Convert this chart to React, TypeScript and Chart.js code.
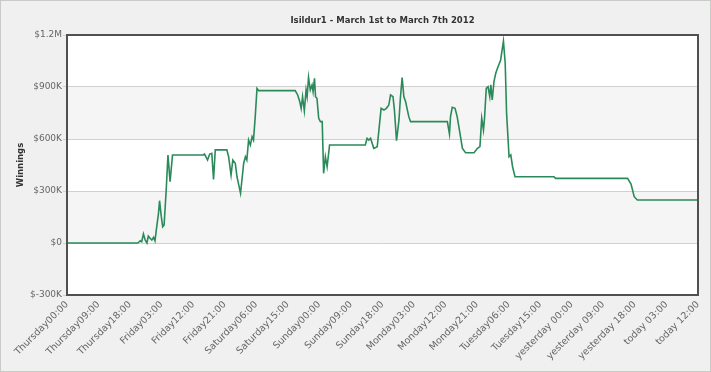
import React, { useEffect, useRef } from "react";
import { Chart, registerables } from "chart.js";

Chart.register(...registerables);

const chartTitle = "Isildur1 - March 1st to March 7th 2012";
const yAxisTitle = "Winnings";

const xTickLabels = [
  "Thursday00:00", "Thursday09:00", "Thursday18:00", "Friday03:00", "Friday12:00",
  "Friday21:00", "Saturday06:00", "Saturday15:00", "Sunday00:00", "Sunday09:00",
  "Sunday18:00", "Monday03:00", "Monday12:00", "Monday21:00", "Tuesday06:00",
  "Tuesday15:00", "yesterday 00:00", "yesterday 09:00", "yesterday 18:00",
  "today 03:00", "today 12:00",
];

const yTickValues = [-300000, 0, 300000, 600000, 900000, 1200000];
const yTickLabels = ["$-300K", "$0", "$300K", "$600K", "$900K", "$1.2M"];

// hours since Thursday 00:00
const hours = [
  0, 20.2, 20.9, 21.3, 21.8, 22.3, 22.8, 23.2, 23.7, 24.2, 24.7, 25.1, 25.6, 26.1, 26.4,
  26.9, 27.3, 27.7, 28.3, 28.8, 29.4, 30.1, 38.9, 39.2, 39.6, 40.1, 40.7, 41.3, 41.8,
  42.3, 45.6, 46.1, 46.8, 47.3, 48.0, 48.5, 48.9, 49.5, 50.0, 50.4, 50.9, 51.3, 51.8,
  52.3, 52.8, 53.2, 53.7, 54.2, 54.7, 65.1, 65.8, 66.4, 66.8, 67.2, 67.7, 68.2, 68.5,
  68.9, 69.4, 69.9, 70.2, 70.6, 70.9, 71.3, 71.8, 72.3, 72.8, 73.2, 73.7, 74.2, 74.9,
  85.1, 85.6, 86.1, 86.6, 87.5, 88.5, 89.6, 90.4, 91.1, 91.8, 92.3, 93.0, 93.4, 94.0,
  94.7, 95.1, 95.6, 96.1, 96.6, 97.1, 97.5, 98.0, 108.5, 109.1, 109.4, 109.9, 110.7,
  111.3, 112.1, 112.8, 113.7, 116.1, 117.1, 117.8, 118.3, 118.8, 119.1, 119.6, 120.1,
  120.6, 120.9, 121.3, 121.8, 122.3, 122.8, 123.7, 124.5, 125.0, 125.4, 126.1, 126.6,
  127.1, 127.8, 138.9, 139.4, 159.9, 160.9, 161.8, 162.7, 180,
];

const winnings = [
  0, 0, 13000, 8000, 52000, 17000, 0, 40000, 27000, 17000, 33000, 13000, 94000, 171000, 244000,
  152000, 94000, 104000, 306000, 508000, 354000, 508000, 508000, 513000, 498000, 479000, 513000, 517000, 367000,
  537000, 537000, 498000, 392000, 479000, 460000, 382000, 344000, 287000, 382000, 460000, 498000, 479000, 594000,
  565000, 613000, 594000, 729000, 892000, 879000, 879000, 854000, 815000, 777000, 844000, 763000, 883000, 844000,
  956000, 883000, 912000, 873000, 950000, 844000, 835000, 719000, 700000, 700000, 402000, 498000, 440000, 565000,
  565000, 604000, 594000, 604000, 546000, 556000, 777000, 767000, 777000, 796000, 854000, 844000, 767000, 590000,
  710000, 835000, 954000, 844000, 815000, 767000, 729000, 700000, 700000, 629000, 729000, 783000, 777000,
  729000, 633000, 546000, 521000, 521000, 546000, 556000, 719000, 652000, 719000, 892000, 902000,
  844000, 912000, 825000, 931000, 979000, 1008000, 1056000, 1165000, 1037000, 748000, 498000, 508000,
  440000, 382000, 382000, 373000, 373000, 340000, 267000, 248000, 248000,
];

const bandRanges = [
  [0, 300000],
  [600000, 900000],
];

const decorPlugin = {
  id: "decor",
  beforeDraw(chart: any) {
    const { ctx, chartArea, scales } = chart;
    const { left, right, top, bottom } = chartArea;
    ctx.save();
    ctx.fillStyle = "#eff0ef";
    ctx.fillRect(0, 0, chart.width, chart.height);
    ctx.strokeStyle = "#c9cbc9";
    ctx.lineWidth = 1;
    ctx.strokeRect(0.5, 0.5, chart.width - 1, chart.height - 1);
    ctx.fillStyle = "#ffffff";
    ctx.fillRect(left, top, right - left, bottom - top);
    ctx.fillStyle = "#f5f5f5";
    for (const [a, b] of bandRanges) {
      const y1 = scales.y.getPixelForValue(b);
      const y2 = scales.y.getPixelForValue(a);
      ctx.fillRect(left, y1, right - left, y2 - y1);
    }
    ctx.fillStyle = "#333333";
    ctx.font = 'bold 8.5px "DejaVu Sans"';
    ctx.textAlign = "center";
    ctx.textBaseline = "middle";
    ctx.fillText(chartTitle, (left + right) / 2, 21);
    ctx.restore();
  },
  afterDraw(chart: any) {
    const { ctx, chartArea } = chart;
    const { left, right, top, bottom } = chartArea;
    ctx.save();
    ctx.strokeStyle = "#505050";
    ctx.lineWidth = 2;
    ctx.strokeRect(left, top, right - left, bottom - top);
    ctx.restore();
  },
};

export default function App() {
  const ref = useRef<HTMLCanvasElement | null>(null);
  useEffect(() => {
    if (!ref.current) return;
    const chart = new Chart(ref.current, {
      type: "line",
      data: {
        datasets: [
          {
            data: hours.map((h, i) => ({ x: h, y: winnings[i] })),
            borderColor: "#2b8a59",
            borderWidth: 1.6,
            pointRadius: 0,
            tension: 0,
            fill: false,
          },
        ],
      },
      options: {
        animation: false,
        responsive: false,
        layout: { padding: { top: 35, right: 13, left: 0, bottom: 0 } },
        plugins: { legend: { display: false }, tooltip: { enabled: false }, title: { display: false } },
        scales: {
          x: {
            type: "linear",
            min: 0,
            max: 180,
            afterFit: (s: any) => { s.height = 77; },
            afterBuildTicks: (s: any) => {
              s.ticks = xTickLabels.map((_, i) => ({ value: i * 9 }));
            },
            grid: { display: false, drawTicks: false },
            border: { display: false },
            ticks: {
              autoSkip: false,
              maxRotation: 45,
              minRotation: 45,
              padding: 4,
              color: "#666666",
              font: { family: '"DejaVu Sans"', size: 9.5 },
              callback: (v: any) => xTickLabels[Math.round(Number(v) / 9)] ?? "",
            },
          },
          y: {
            min: -300000,
            max: 1200000,
            afterFit: (s: any) => { s.width = 67; },
            afterBuildTicks: (s: any) => {
              s.ticks = yTickValues.map((v) => ({ value: v }));
            },
            grid: { color: "#d0d0d0", lineWidth: 1, tickLength: 4, drawTicks: true },
            border: { display: false },
            ticks: {
              autoSkip: false,
              padding: 1,
              color: "#666666",
              font: { family: '"DejaVu Sans"', size: 9 },
              callback: (v: any) => {
                const i = yTickValues.indexOf(Number(v));
                return i >= 0 ? yTickLabels[i] : "";
              },
            },
            title: {
              display: true,
              text: yAxisTitle,
              color: "#333333",
              font: { family: '"DejaVu Sans"', size: 8.5, weight: "bold" },
              padding: { top: 16, bottom: 0 },
            },
          },
        },
      },
      plugins: [decorPlugin],
    });
    return () => chart.destroy();
  }, []);
  return (
    <div style={{ position: "fixed", left: 0, top: 0, width: 711, height: 372 }}>
      <canvas ref={ref} width={711} height={372} style={{ display: "block" }} />
    </div>
  );
}
